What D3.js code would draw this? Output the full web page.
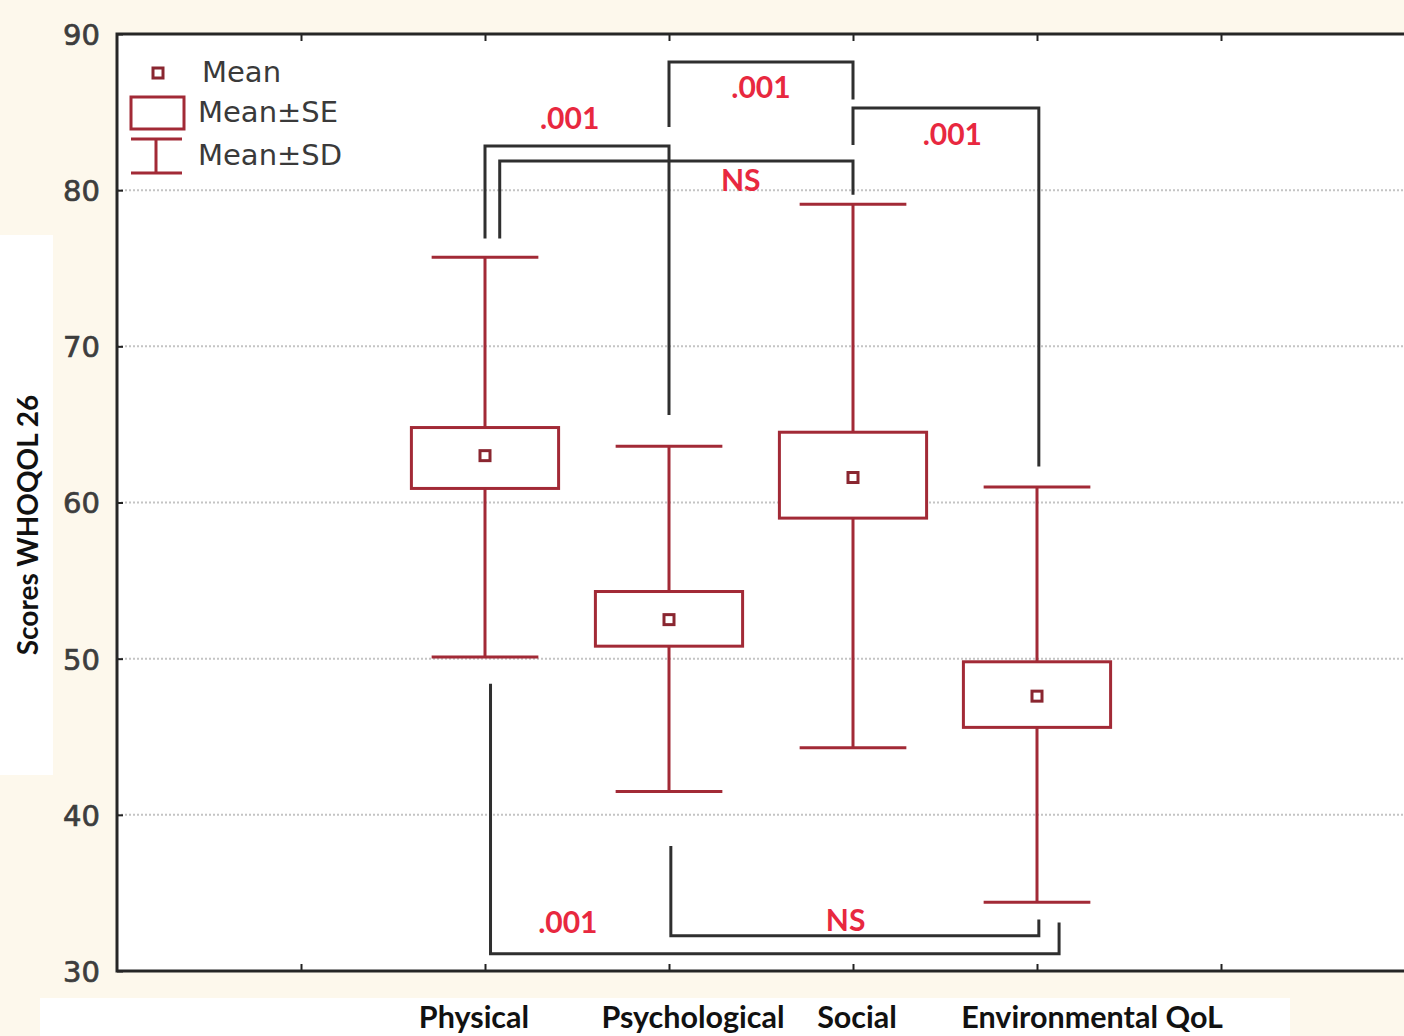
<!DOCTYPE html>
<html><head><meta charset="utf-8">
<script src="https://cdn.jsdelivr.net/npm/d3@7"></script>
<style>
html,body{margin:0;padding:0;background:#fdf8ec;}
svg{display:block;}
</style></head>
<body>
<svg id="chart" width="1404" height="1036"></svg>
<script>
// ---- data ----
const categories = ["Physical", "Psychological", "Social", "Environmental QoL"];
const means  = [63.0, 52.5, 61.6, 47.6];
const seLow  = [60.9, 50.8, 59.0, 45.6];
const seHigh = [64.8, 54.3, 64.5, 49.8];
const sdLow  = [50.1, 41.5, 44.3, 34.4];
const sdHigh = [75.7, 63.6, 79.1, 61.0];
const yTicks = [30, 40, 50, 60, 70, 80, 90];
const legendLabels = ["Mean", "Mean\u00B1SE", "Mean\u00B1SD"];
// significance brackets: from/to category index, x offsets (category units),
// y of left end, y of bar, y of right end, label and label position
const brFrom   = [0, 0, 1, 2, 0, 1];
const brTo     = [1, 2, 2, 3, 3, 3];
const brOffA   = [0, 0.08, 0, 0, 0.03, 0.01];
const brOffB   = [0, 0, 0, 0.01, 0.12, 0.01];
const brYA     = [76.9, 76.9, 84.05, 82.9, 48.4, 38.0];
const brYBar   = [82.83, 81.87, 88.2, 85.26, 31.1, 32.25];
const brYB     = [65.6, 79.7, 85.8, 62.3, 33.1, 33.3];
const brLabel  = [".001", "NS", ".001", ".001", ".001", "NS"];
const brLabelX = [2.46, 3.39, 3.5, 4.54, 2.45, 3.96];
const brLabelY = [84.6, 80.65, 86.6, 83.6, 33.1, 33.25];

// ---- layout ----
const svg = d3.select("#chart");
const L = 117, R = 1405, T = 34, B = 971;
const x = d3.scaleLinear().domain([0, 7]).range([L, R]);
const y = d3.scaleLinear().domain([30, 90]).range([B, T]);
const cx = i => x(i + 2);

const boxColor = "#a22a36", markColor = "#8a2630", brColor = "#2f2f2f", labColor = "#e8283f";

// white patches of the background
svg.append("rect").attr("x", 0).attr("y", 235).attr("width", 53).attr("height", 540).attr("fill", "#fff");
svg.append("rect").attr("x", 40).attr("y", 998).attr("width", 1250).attr("height", 38).attr("fill", "#fff");

// plot background
svg.append("rect").attr("x", L).attr("y", T).attr("width", R - L).attr("height", B - T).attr("fill", "#fff");

// grid
svg.append("g").selectAll("line").data(yTicks.filter(d => d > 30 && d < 90)).join("line")
  .attr("x1", L).attr("x2", R).attr("y1", d => y(d)).attr("y2", d => y(d))
  .attr("stroke", "#c4c4c4").attr("stroke-width", 2).attr("stroke-dasharray", "2,2");

// axes
const yAxis = d3.axisLeft(y).tickValues(yTicks).tickSize(-6).tickPadding(17).tickFormat(d3.format("d"));
const gy = svg.append("g").attr("transform", `translate(${L},0)`).call(yAxis);
gy.select(".domain").remove();
gy.selectAll("line").attr("stroke", "#222").attr("stroke-width", 2);
gy.selectAll("text").attr("font-family", "DejaVu Sans, Verdana, sans-serif").attr("font-size", 29)
  .attr("fill", "#3d3d3d").attr("stroke", "#3d3d3d").attr("stroke-width", 0.7).attr("dy", "0.36em");

const xTickVals = [1, 2, 3, 4, 5, 6];
const xb = svg.append("g").attr("transform", `translate(0,${B})`).call(d3.axisBottom(x).tickValues(xTickVals).tickSize(-7).tickFormat(""));
xb.select(".domain").remove();
xb.selectAll("line").attr("stroke", "#222").attr("stroke-width", 2);
const xt = svg.append("g").attr("transform", `translate(0,${T})`).call(d3.axisTop(x).tickValues(xTickVals).tickSize(-7).tickFormat(""));
xt.select(".domain").remove();
xt.selectAll("line").attr("stroke", "#222").attr("stroke-width", 2);

// frame lines (left, top, bottom)
svg.append("path").attr("d", `M${R},${T}H${L}V${B}H${R}`).attr("fill", "none").attr("stroke", "#262626").attr("stroke-width", 3);

// category labels
const labelShift = [-11, 24, 4, 55];
svg.append("g").selectAll("text").data(categories).join("text")
  .attr("x", (d, i) => cx(i) + labelShift[i]).attr("y", 1028)
  .attr("text-anchor", "middle").attr("font-family", "Lato, 'Open Sans', sans-serif")
  .attr("font-weight", 700).attr("font-size", 30.5).attr("fill", "#111").text(d => d);

// y label
svg.append("text").attr("transform", "translate(38,525) rotate(-90)")
  .attr("text-anchor", "middle").attr("font-family", "Lato, 'Open Sans', sans-serif")
  .attr("font-weight", 700).attr("font-size", 28).attr("fill", "#111").text("Scores WHOQOL 26");

// brackets
const gb = svg.append("g");
brFrom.forEach((f, k) => {
  const xa = x(f + 2 + brOffA[k]), xb2 = x(brTo[k] + 2 + brOffB[k]);
  const p = d3.path();
  p.moveTo(xa, y(brYA[k])); p.lineTo(xa, y(brYBar[k])); p.lineTo(xb2, y(brYBar[k])); p.lineTo(xb2, y(brYB[k]));
  gb.append("path").attr("d", p.toString()).attr("fill", "none").attr("stroke", brColor).attr("stroke-width", 3);
});

// whiskers (SD)
const capHalf = 0.29, boxHalf = 0.4;
const gw = svg.append("g").attr("stroke", boxColor).attr("stroke-width", 3).attr("fill", "none");
categories.forEach((c, i) => {
  gw.append("line").attr("x1", cx(i)).attr("x2", cx(i)).attr("y1", y(sdHigh[i])).attr("y2", y(sdLow[i]));
  gw.append("line").attr("x1", x(i + 2 - capHalf)).attr("x2", x(i + 2 + capHalf)).attr("y1", y(sdHigh[i])).attr("y2", y(sdHigh[i]));
  gw.append("line").attr("x1", x(i + 2 - capHalf)).attr("x2", x(i + 2 + capHalf)).attr("y1", y(sdLow[i])).attr("y2", y(sdLow[i]));
});
// SE boxes
svg.append("g").selectAll("rect").data(categories).join("rect")
  .attr("x", (d, i) => x(i + 2 - boxHalf)).attr("width", (d, i) => x(i + 2 + boxHalf) - x(i + 2 - boxHalf))
  .attr("y", (d, i) => y(seHigh[i])).attr("height", (d, i) => y(seLow[i]) - y(seHigh[i]))
  .attr("fill", "#fff").attr("stroke", boxColor).attr("stroke-width", 3);
// means
svg.append("g").selectAll("rect").data(categories).join("rect")
  .attr("x", (d, i) => cx(i) - 5).attr("y", (d, i) => y(means[i]) - 5).attr("width", 10).attr("height", 10)
  .attr("fill", "#fff").attr("stroke", markColor).attr("stroke-width", 3);

// bracket labels
svg.append("g").selectAll("text").data(brLabel).join("text")
  .attr("x", (d, k) => x(brLabelX[k])).attr("y", (d, k) => y(brLabelY[k]))
  .attr("dy", "0.36em").attr("text-anchor", "middle")
  .attr("font-family", "Lato, 'Open Sans', sans-serif").attr("font-weight", 700).attr("font-size", 30)
  .attr("fill", labColor).text(d => d);

// legend
const lg = svg.append("g");
lg.append("rect").attr("x", 153).attr("y", 68).attr("width", 10).attr("height", 10)
  .attr("fill", "#fff").attr("stroke", markColor).attr("stroke-width", 3);
lg.append("rect").attr("x", 131).attr("y", 97).attr("width", 53).attr("height", 32)
  .attr("fill", "#fff").attr("stroke", boxColor).attr("stroke-width", 3);
lg.append("path").attr("d", "M131,139H182M156,139V173M131,173H182").attr("fill", "none")
  .attr("stroke", boxColor).attr("stroke-width", 3);
lg.selectAll("text").data(legendLabels).join("text")
  .attr("x", (d, i) => i === 0 ? 202 : 198).attr("y", (d, i) => [72, 112, 155][i]).attr("dy", "0.36em")
  .attr("font-family", "DejaVu Sans, Verdana, sans-serif").attr("font-size", 29)
  .attr("fill", "#3a3a3a").text(d => d);
</script>
</body></html>
